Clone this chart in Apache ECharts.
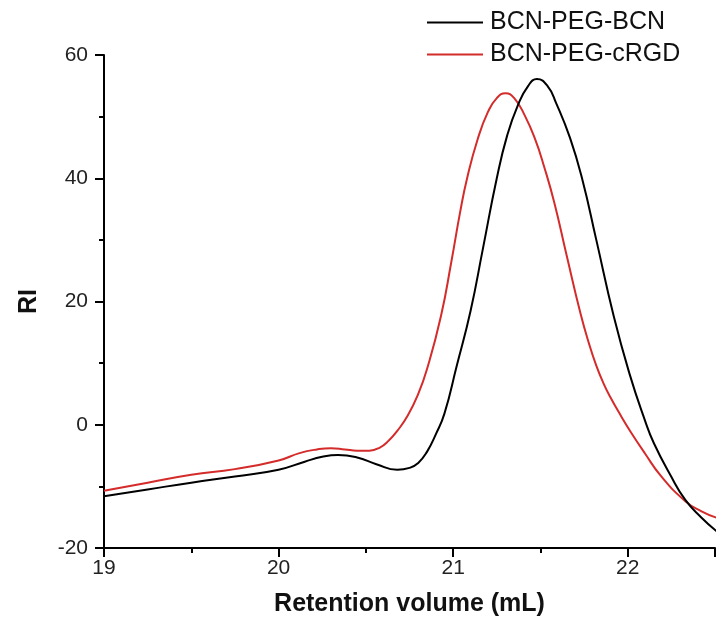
<!DOCTYPE html>
<html>
<head>
<meta charset="utf-8">
<script src="https://cdn.jsdelivr.net/npm/echarts@6/dist/echarts.min.js"></script>
<style>
html,body{margin:0;padding:0;background:#fff;}
#chart{width:718px;height:627px;}
</style>
</head>
<body>
<div id="chart"></div>
<script>
const seriesNames = ["BCN-PEG-BCN", "BCN-PEG-cRGD"];

const bcnX = [19.00, 19.25, 19.50, 19.75, 20.00, 20.15, 20.25, 20.34, 20.45, 20.56, 20.68, 20.75, 20.80, 20.85, 20.90, 20.95, 21.02, 21.10, 21.17, 21.25, 21.31, 21.37, 21.43, 21.48, 21.54, 21.59, 21.67, 21.74, 21.82, 21.92, 22.01, 22.10, 22.15, 22.245, 22.33, 22.42, 22.51];
const bcnY = [-11.6, -10.5, -9.4, -8.4, -7.3, -6.0, -5.2, -4.9, -5.3, -6.4, -7.3, -7.0, -6.2, -4.4, -1.6, 1.8, 9.5, 18.5, 28.5, 40.0, 47.0, 51.8, 55.0, 56.1, 55.0, 52.2, 46.5, 39.8, 30.0, 17.6, 8.3, 0.6, -3.0, -8.2, -12.2, -15.0, -17.3];

const rgdX = [19.00, 19.25, 19.50, 19.75, 20.00, 20.12, 20.22, 20.30, 20.38, 20.45, 20.52, 20.58, 20.63, 20.68, 20.74, 20.80, 20.85, 20.93, 20.99, 21.04, 21.08, 21.14, 21.20, 21.25, 21.30, 21.35, 21.41, 21.47, 21.52, 21.58, 21.65, 21.73, 21.78, 21.82, 21.86, 21.90, 21.96, 22.02, 22.10, 22.19, 22.33, 22.42, 22.51];
const rgdY = [-10.7, -9.4, -8.1, -7.2, -5.8, -4.6, -4.0, -3.8, -4.0, -4.2, -4.2, -3.7, -2.6, -1.0, 1.5, 5.0, 9.0, 17.6, 26.5, 34.5, 40.0, 46.3, 50.8, 53.0, 53.8, 53.0, 50.2, 46.3, 42.0, 36.0, 27.5, 18.0, 13.0, 9.6, 6.8, 4.5, 1.5, -1.3, -4.7, -8.3, -12.4, -14.0, -15.1];

const xMin = 19, xMax = 22.5, xInterval = 1;
const yMin = -20, yMax = 60, yInterval = 20;

function zip(xs, ys) { return xs.map((x, i) => [x, ys[i]]); }

const FONT = "Liberation Sans, Arial, sans-serif";
const chart = echarts.init(document.getElementById('chart'), null, {renderer: 'canvas'});
chart.setOption({
  animation: false,
  backgroundColor: '#fff',
  grid: {left: 104, right: 3, top: 55, bottom: 79, containLabel: false},
  legend: {
    orient: 'vertical',
    left: 427,
    top: 10,
    padding: 0,
    itemWidth: 56,
    itemHeight: 2,
    itemGap: 7,
    icon: 'rect',
    textStyle: {fontFamily: FONT, fontSize: 25, color: '#111', padding: [0, 0, 0, 2]},
    data: seriesNames
  },
  xAxis: {
    type: 'value',
    min: xMin, max: xMax, interval: xInterval,
    name: 'Retention volume (mL)',
    nameLocation: 'middle',
    nameGap: 44,
    nameTextStyle: {fontFamily: FONT, fontSize: 25, fontWeight: 'bold', color: '#111'},
    axisLine: {show: true, onZero: false, lineStyle: {color: '#000', width: 2}},
    axisTick: {show: true, inside: false, length: 9, lineStyle: {color: '#000', width: 2}},
    minorTick: {show: true, splitNumber: 2, length: 5, lineStyle: {color: '#000', width: 2}},
    axisLabel: {fontFamily: FONT, fontSize: 21, color: '#222', margin: 10, showMaxLabel: false,
      formatter: v => (Math.abs(v - Math.round(v)) < 1e-9 ? String(Math.round(v)) : '')},
    splitLine: {show: false}
  },
  yAxis: {
    type: 'value',
    min: yMin, max: yMax, interval: yInterval,
    name: 'RI',
    nameLocation: 'middle',
    nameGap: 62,
    nameTextStyle: {fontFamily: FONT, fontSize: 25, fontWeight: 'bold', color: '#111'},
    axisLine: {show: true, onZero: false, lineStyle: {color: '#000', width: 2}},
    axisTick: {show: true, inside: false, length: 9, lineStyle: {color: '#000', width: 2}},
    minorTick: {show: true, splitNumber: 2, length: 5, lineStyle: {color: '#000', width: 2}},
    axisLabel: {fontFamily: FONT, fontSize: 21, color: '#222', margin: 16},
    splitLine: {show: false}
  },
  series: [
    {
      name: seriesNames[0], type: 'line', data: zip(bcnX, bcnY),
      smooth: 0.5, showSymbol: false, symbol: 'none',
      lineStyle: {color: '#000000', width: 2}, itemStyle: {color: '#000000'}, z: 3
    },
    {
      name: seriesNames[1], type: 'line', data: zip(rgdX, rgdY),
      smooth: 0.5, showSymbol: false, symbol: 'none',
      lineStyle: {color: '#d42b2b', width: 2}, itemStyle: {color: '#d42b2b'}, z: 2
    }
  ]
});
</script>
</body>
</html>
